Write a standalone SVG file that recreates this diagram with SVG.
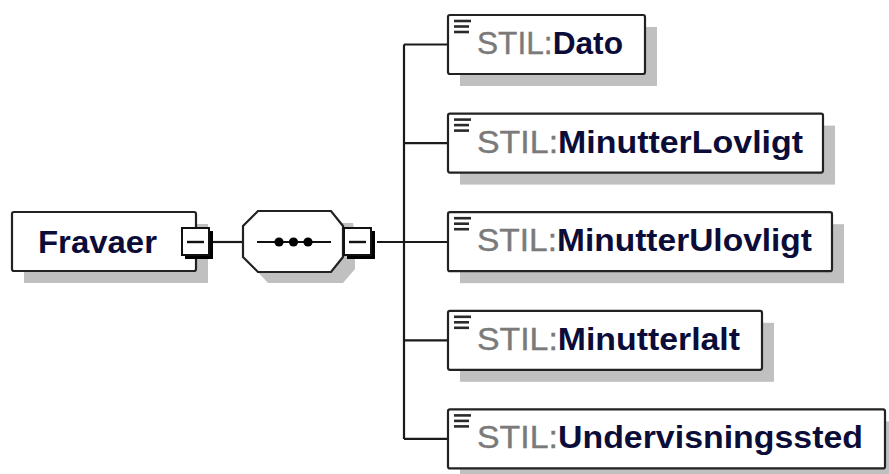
<svg xmlns="http://www.w3.org/2000/svg" width="889" height="474" viewBox="0 0 889 474">
  <style>
    .shadow { fill: #c0c0c0; }
    .box { fill: #ffffff; stroke: #222222; stroke-width: 2.2; }
    .wire { fill: none; stroke: #1a1a1a; stroke-width: 2.2; }
    .icon { stroke: #2a2a2a; stroke-width: 2.6; }
    .label { font-family: "Liberation Sans", Arial, sans-serif; font-size: 32px; }
    .ns { fill: #7a7a7a; font-weight: normal; stroke: #7a7a7a; stroke-width: 0.4; }
    .name { fill: #0c0c38; font-weight: bold; }
    .toggle { fill: #ffffff; stroke: #111111; stroke-width: 2; }
  </style>
  <defs>
    <filter id="soft" x="-5%" y="-5%" width="110%" height="110%">
      <feGaussianBlur stdDeviation="0.6"/>
    </filter>
    <!-- collapse/expand toggle with a 3D black edge -->
    <g id="minus">
      <rect x="4" y="4" width="28" height="28" fill="#000000"/>
      <rect x="1" y="1" width="27" height="27" class="toggle"/>
      <line x1="6" y1="15" x2="23" y2="15" stroke="#111111" stroke-width="2.4"/>
    </g>
    <!-- element annotation marker -->
    <g id="doc">
      <line x1="6" y1="6" x2="23" y2="6" class="icon"/>
      <line x1="6" y1="11.5" x2="21" y2="11.5" class="icon"/>
      <line x1="6" y1="17" x2="21" y2="17" class="icon"/>
    </g>
  </defs>

  <rect width="889" height="474" fill="#ffffff"/>

  <!-- connectors -->
  <g id="connectors">
    <line x1="212" y1="242" x2="244" y2="242" class="wire"/>
    <line x1="377" y1="242" x2="448" y2="242" class="wire"/>
    <line x1="404" y1="44.5" x2="404" y2="438.9" class="wire"/>
    <line x1="404" y1="44.5" x2="448" y2="44.5" class="wire"/>
    <line x1="404" y1="143.1" x2="448" y2="143.1" class="wire"/>
    <line x1="404" y1="340.3" x2="448" y2="340.3" class="wire"/>
    <line x1="404" y1="438.9" x2="448" y2="438.9" class="wire"/>
  </g>

  <!-- root element -->
  <g id="node-fravaer">
    <rect x="24" y="224" width="184" height="59" class="shadow" filter="url(#soft)"/>
    <rect x="12" y="212" width="184" height="59" rx="2" class="box"/>
    <text x="38" y="253" class="label name" textLength="119" lengthAdjust="spacingAndGlyphs">Fravaer</text>
    <use href="#minus" x="181" y="227"/>
  </g>

  <!-- sequence compositor -->
  <g id="node-sequence">
    <polygon points="268,223 353,223 355,235 355,269 343,283 268,283 255,269 255,235" class="shadow" filter="url(#soft)"/>
    <polygon points="258,211 331,211 343,226 343,257 331,272 258,272 243,257 243,226" class="box"/>
    <line x1="257" y1="242" x2="331" y2="242" stroke="#111111" stroke-width="2.2"/>
    <circle cx="279" cy="242" r="4.6" fill="#000000"/>
    <circle cx="293.5" cy="242" r="4.6" fill="#000000"/>
    <circle cx="308" cy="242" r="4.6" fill="#000000"/>
    <use href="#minus" x="343" y="227"/>
  </g>

  <!-- child elements -->
  <g id="node-dato">
    <rect x="460" y="27" width="197" height="59" class="shadow" filter="url(#soft)"/>
    <rect x="448" y="15" width="197" height="59" rx="2" class="box"/>
    <use href="#doc" x="448" y="15"/>
    <text x="477" y="54" class="label" textLength="146" lengthAdjust="spacingAndGlyphs"><tspan class="ns">STIL:</tspan><tspan class="name">Dato</tspan></text>
  </g>

  <g id="node-minutterlovligt">
    <rect x="460" y="125.6" width="375" height="59" class="shadow" filter="url(#soft)"/>
    <rect x="448" y="113.6" width="375" height="59" rx="2" class="box"/>
    <use href="#doc" x="448" y="113.6"/>
    <text x="477" y="152.6" class="label" textLength="326" lengthAdjust="spacingAndGlyphs"><tspan class="ns">STIL:</tspan><tspan class="name">MinutterLovligt</tspan></text>
  </g>

  <g id="node-minutterulovligt">
    <rect x="460" y="224.2" width="384" height="59" class="shadow" filter="url(#soft)"/>
    <rect x="448" y="212.2" width="384" height="59" rx="2" class="box"/>
    <use href="#doc" x="448" y="212.2"/>
    <text x="477" y="251.2" class="label" textLength="335" lengthAdjust="spacingAndGlyphs"><tspan class="ns">STIL:</tspan><tspan class="name">MinutterUlovligt</tspan></text>
  </g>

  <g id="node-minutterialt">
    <rect x="460" y="322.8" width="314" height="59" class="shadow" filter="url(#soft)"/>
    <rect x="448" y="310.8" width="314" height="59" rx="2" class="box"/>
    <use href="#doc" x="448" y="310.8"/>
    <text x="477" y="349.8" class="label" textLength="263" lengthAdjust="spacingAndGlyphs"><tspan class="ns">STIL:</tspan><tspan class="name">Minutterlalt</tspan></text>
  </g>

  <g id="node-undervisningssted">
    <rect x="460" y="421.4" width="437" height="59" class="shadow" filter="url(#soft)"/>
    <rect x="448" y="409.4" width="437" height="59" rx="2" class="box"/>
    <use href="#doc" x="448" y="409.4"/>
    <text x="477" y="448.4" class="label" textLength="386" lengthAdjust="spacingAndGlyphs"><tspan class="ns">STIL:</tspan><tspan class="name">Undervisningssted</tspan></text>
  </g>
</svg>
